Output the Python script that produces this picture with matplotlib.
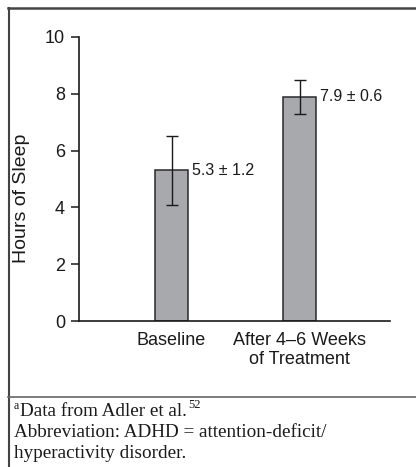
import matplotlib
matplotlib.use("Agg")
import matplotlib.pyplot as plt
from matplotlib.lines import Line2D

categories = ["Baseline", "After 4\u20136 Weeks\nof Treatment"]
means = [5.3, 7.9]
sds = [1.2, 0.6]
yticks = [0, 2, 4, 6, 8, 10]

plt.rcParams['font.family'] = ['Liberation Sans', 'DejaVu Sans']

W, H = 416, 467
fig = plt.figure(figsize=(W / 100, H / 100), dpi=100)
ax = fig.add_axes([79 / W, 1 - 321 / H, (390 - 79) / W, (321 - 37) / H])

x = list(range(len(categories)))
ax.bar(x, means, width=0.26, color="#a8a9ac", edgecolor="#2a2a2a", linewidth=1.1, zorder=2)
ax.errorbar(x, means, yerr=sds, fmt="none", ecolor="#1a1a1a", elinewidth=1.0,
            capsize=4, capthick=1.0, zorder=3)
for xi, m, s in zip(x, means, sds):
    ax.text(xi + 0.16, m, f"{m:.1f} \u00b1 {s:.1f}",
            ha="left", va="center", fontsize=11.5, color="#1a1a1a")

ax.set_xlim(-0.723, 1.707)
ax.set_ylim(0, 10)
ax.set_yticks(yticks)
ax.set_xticks(x)
ax.set_xticklabels(categories, fontsize=13, color="#1a1a1a", linespacing=1.15)
ax.tick_params(axis="x", length=0, pad=8)
ax.tick_params(axis="y", length=6, width=1.1, labelsize=13, colors="#1a1a1a", pad=4)
for sp in ["top", "right"]:
    ax.spines[sp].set_visible(False)
for sp in ["left", "bottom"]:
    ax.spines[sp].set_linewidth(1.2)
    ax.spines[sp].set_color("#1a1a1a")

fig.text(22 / W, 1 - 198 / H, "Hours of Sleep", rotation=90, ha="center", va="center",
         fontsize=14, color="#1a1a1a")

# frame lines
def hline(y, x0, x1, lw=1.5, c="#444444"):
    fig.add_artist(Line2D([x0 / W, x1 / W], [1 - y / H, 1 - y / H], transform=fig.transFigure,
                          color=c, linewidth=lw))

def vline(xp, y0, y1, lw=1.5, c="#444444"):
    fig.add_artist(Line2D([xp / W, xp / W], [1 - y0 / H, 1 - y1 / H], transform=fig.transFigure,
                          color=c, linewidth=lw))

hline(8, 8, 417, lw=1.8)
vline(8.5, 8, 468, lw=1.5)
hline(397, 8, 417, lw=1.2, c="#666666")

# cut-off heading at top
fig.text(25 / W, 1 - 0.2 / H, "Associated With ADHD", ha="left", va="baseline",
         fontsize=12, color="#bbbbbb")

serif = ['Liberation Serif', 'DejaVu Serif']
fs = 13.8
fig.text(14 / W, 1 - 409 / H, "a", fontsize=8.5, family=serif, va="baseline", color="#1a1a1a")
t1 = fig.text(20 / W, 1 - 416 / H, "Data from Adler et al.", fontsize=fs, family=serif,
              va="baseline", color="#1a1a1a")
fig.canvas.draw()
bb = t1.get_window_extent()
fig.text((bb.x1 + 1) / W, 1 - 408 / H, "52", fontsize=9, family=serif, va="baseline",
         color="#1a1a1a")
fig.text(14 / W, 1 - 437 / H, "Abbreviation: ADHD = attention-deficit/", fontsize=fs,
         family=serif, va="baseline", color="#1a1a1a")
fig.text(14 / W, 1 - 458 / H, "hyperactivity disorder.", fontsize=fs, family=serif,
         va="baseline", color="#1a1a1a")

fig.savefig("out.png", dpi=100)
